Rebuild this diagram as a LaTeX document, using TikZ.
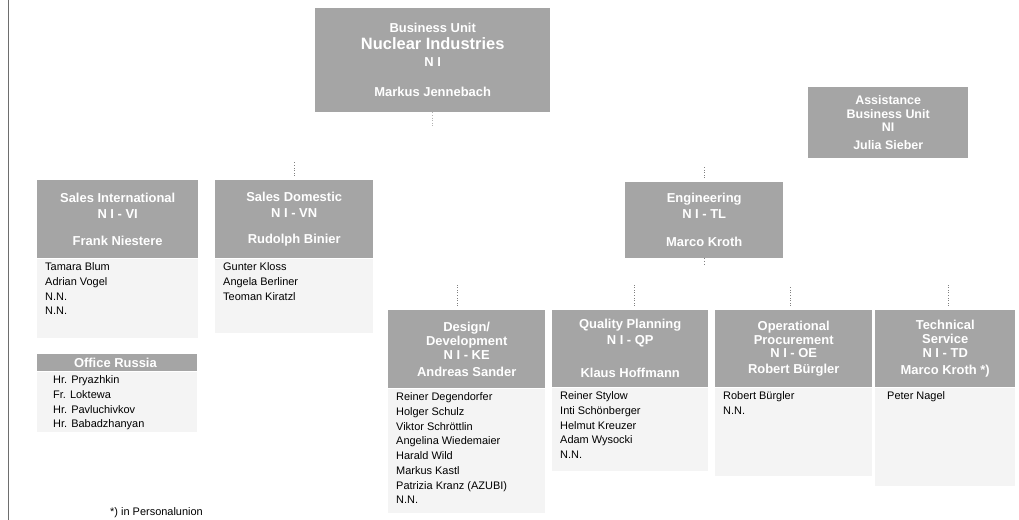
\documentclass[tikz,border=0pt]{standalone}
\usepackage{fontspec}
\setmainfont{Liberation Sans}
\usetikzlibrary{positioning}
\definecolor{unitgray}{RGB}{165,165,165}
\definecolor{stafftint}{RGB}{244,244,244}
\definecolor{rulegray}{RGB}{110,110,110}
\newcommand{\namelist}[3]{\parbox[t][#2][t]{#1}{\raggedright #3}}

\begin{document}
\begin{tikzpicture}[x=1bp, y=1bp,
    unit/.style={fill=unitgray, text=white, align=center, anchor=north west,
      inner sep=2bp, font=\bfseries\fontsize{13}{16}\selectfont},
    tightunit/.style={unit, font=\bfseries\fontsize{13}{14}\selectfont},
    staff/.style={fill=stafftint, anchor=north, inner xsep=8bp, inner ysep=4bp,
      font=\fontsize{11}{14.8}\selectfont},
    stub/.style={draw=gray, dotted, line width=0.6bp, shorten <=4bp}]
    \useasboundingbox (0,0) rectangle (1019,520);
    \draw[rulegray, line width=1bp] (8,0) -- (8,520);

    % management
    \node[unit, minimum width=235bp, minimum height=104bp,
          font=\bfseries\fontsize{13}{17}\selectfont] (bu) at (315,512) {
      Business Unit\\
      {\fontsize{16.5}{17}\selectfont Nuclear Industries}\\
      N I\\[13bp]
      Markus Jennebach
    };
    \node[unit, minimum width=160bp, minimum height=71bp,
          font=\bfseries\fontsize{12.5}{13.5}\selectfont] (assist) at (808,433) {
      Assistance\\ Business Unit\\ NI\\[4bp] Julia Sieber
    };

    % sales
    \node[unit, minimum width=161bp, minimum height=78bp] (salesint) at (37,340) {
      Sales International\\ N I - VI\\[11bp] Frank Niestere
    };
    \node[staff, below=0bp of salesint] (salesintstaff) {\namelist{145bp}{71bp}{
      Tamara Blum\\ Adrian Vogel\\ N.N.\\ N.N.}};
    \node[unit, minimum width=158bp, minimum height=78bp] (salesdom) at (215,340) {
      Sales Domestic\\ N I - VN\\[11bp] Rudolph Binier
    };
    \node[staff, below=0bp of salesdom] (salesdomstaff) {\namelist{142bp}{66bp}{
      Gunter Kloss\\ Angela Berliner\\ Teoman Kiratzl}};
    \node[unit, minimum width=160bp, minimum height=17bp, inner sep=0bp] (russia) at (37,166) {
      Office Russia
    };
    \node[staff, below=0bp of russia, inner xsep=0bp] (russiastaff) {\namelist{160bp}{52bp}{
      \leftskip=16bp Hr. Pryazhkin\\ Fr. Loktewa\\ Hr. Pavluchivkov\\ Hr. Babadzhanyan}};

    % engineering
    \node[unit, minimum width=158bp, minimum height=76bp] (eng) at (625,338) {
      Engineering\\ N I - TL\\[12bp] Marco Kroth
    };
    \node[tightunit, minimum width=157bp, minimum height=78bp] (design) at (388,210) {
      Design/\\ Development\\ N I - KE\\[3bp] Andreas Sander
    };
    \node[staff, below=0bp of design] (designstaff) {\namelist{141bp}{116bp}{
      Reiner Degendorfer\\ Holger Schulz\\ Viktor Schröttlin\\ Angelina Wiedemaier\\
      Harald Wild\\ Markus Kastl\\ Patrizia Kranz (AZUBI)\\ N.N.}};
    \node[unit, minimum width=156bp, minimum height=77bp] (quality) at (552,210) {
      Quality Planning\\ N I - QP\\[17bp] Klaus Hoffmann
    };
    \node[staff, below=0bp of quality] (qualitystaff) {\namelist{140bp}{75bp}{
      Reiner Stylow\\ Inti Schönberger\\ Helmut Kreuzer\\ Adam Wysocki\\ N.N.}};
    \node[tightunit, minimum width=157bp, minimum height=77bp] (procure) at (715,210) {
      Operational\\ Procurement\\ N I - OE\\[2bp] Robert Bürgler
    };
    \node[staff, below=0bp of procure] (procurestaff) {\namelist{141bp}{80bp}{
      Robert Bürgler\\ N.N.}};
    \node[tightunit, minimum width=140bp, minimum height=77bp] (techserv) at (875,210) {
      Technical\\ Service\\ N I - TD\\[3bp] Marco Kroth *)
    };
    \node[staff, below=0bp of techserv, inner xsep=12bp] (techservstaff) {\namelist{116bp}{90bp}{
      Peter Nagel}};

    % dotted stubs
    \coordinate[below=14bp of bu.south] (budown);
    \draw[stub, draw=gray!60, shorten <=0bp] (bu.south) -- (budown);
    \coordinate[above=18bp of salesdom.north] (salesdomup);
    \draw[stub] (salesdom.north) -- (salesdomup);
    \coordinate[above=16bp of eng.north] (engup);
    \draw[stub] (eng.north) -- (engup);
    \coordinate[below=6bp of eng.south] (engdown);
    \draw[stub, shorten <=0bp] (eng.south) -- (engdown);
    \coordinate (designup) at ([xshift=-9bp, yshift=26bp]design.north);
    \draw[stub] ([xshift=-9bp]design.north) -- (designup);
    \coordinate (qualityup) at ([xshift=4bp, yshift=26bp]quality.north);
    \draw[stub] ([xshift=4bp]quality.north) -- (qualityup);
    \coordinate (procureup) at ([xshift=-3bp, yshift=24bp]procure.north);
    \draw[stub] ([xshift=-3bp]procure.north) -- (procureup);
    \coordinate (techservup) at ([xshift=3bp, yshift=26bp]techserv.north);
    \draw[stub] ([xshift=3bp]techserv.north) -- (techservup);

    \node[anchor=base west, inner sep=0bp, font=\fontsize{11}{13}\selectfont] (footnote) at (110,4) {*) in Personalunion};
\end{tikzpicture}
\end{document}
